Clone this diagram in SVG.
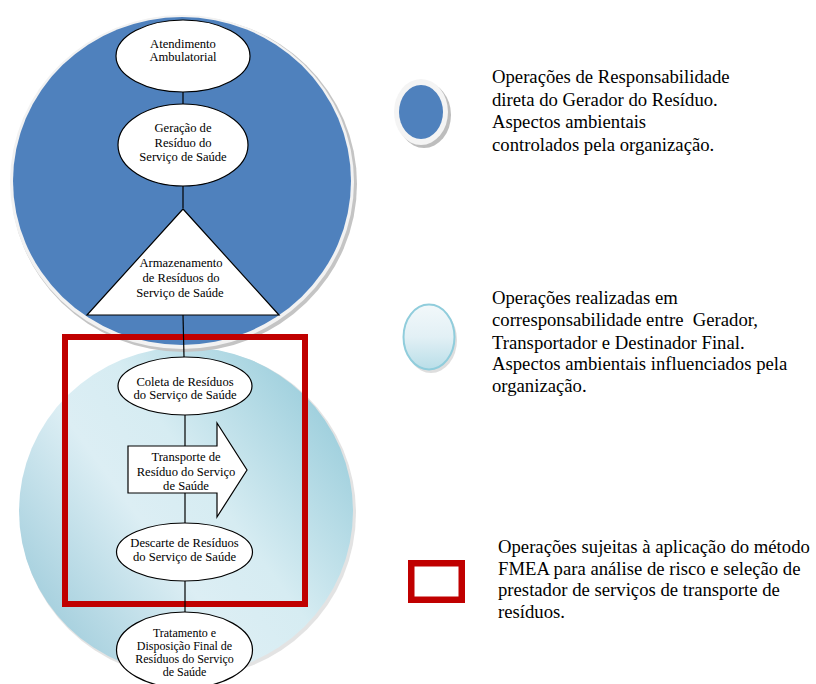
<svg xmlns="http://www.w3.org/2000/svg" width="816" height="684" viewBox="0 0 816 684">
  <defs>
    <linearGradient id="lightGrad" x1="0.05" y1="0.85" x2="0.95" y2="0.2">
      <stop offset="0" stop-color="#9FCCDB"/>
      <stop offset="0.4" stop-color="#DCEEF4"/>
      <stop offset="0.6" stop-color="#D6ECF2"/>
      <stop offset="1" stop-color="#9CCEDC"/>
    </linearGradient>
    <linearGradient id="iconGrad" x1="0" y1="0" x2="0" y2="1">
      <stop offset="0" stop-color="#F2F8FA"/>
      <stop offset="0.5" stop-color="#E2F0F5"/>
      <stop offset="1" stop-color="#B9DEE8"/>
    </linearGradient>
    <style>
      .node { fill: #FFFFFF; stroke: #000000; stroke-width: 1.2; }
      .conn { stroke: #000000; stroke-width: 1.2; fill: none; }
      .nt { font-family: "Liberation Serif", "DejaVu Serif", serif; font-size: 12.6px; fill: #000000; text-anchor: middle; }
      .nts { font-size: 12px; }
      .lt { font-family: "Liberation Serif", "DejaVu Serif", serif; font-size: 18.7px; fill: #000000; white-space: pre; }
      .red { fill: none; stroke: #C00000; }
    </style>
  </defs>

  <rect width="816" height="684" fill="#FFFFFF"/>

  <!-- background zones -->
  <g id="zone-light">
    <ellipse cx="188" cy="513" rx="168" ry="165" fill="#C8C8C8" opacity="0.5"/>
    <ellipse cx="186" cy="511" rx="167" ry="164" fill="url(#lightGrad)"/>
  </g>
  <g id="zone-blue">
    <ellipse cx="184" cy="184" rx="173" ry="168" fill="#C4C4C4"/>
    <ellipse cx="182" cy="182" rx="172" ry="167" fill="#F2F2F2"/>
    <ellipse cx="182" cy="181" rx="169" ry="164" fill="#4F81BD"/>
  </g>

  <g id="fmea-box">
    <rect class="red" x="65" y="337" width="240" height="267" stroke-width="6"/>
  </g>

  <g id="connectors">
    <line class="conn" x1="183" y1="92" x2="183" y2="104"/>
    <line class="conn" x1="183" y1="186" x2="183" y2="208"/>
    <line class="conn" x1="183" y1="315" x2="184" y2="357"/>
    <line class="conn" x1="185" y1="415" x2="185" y2="523"/>
    <line class="conn" x1="185" y1="581" x2="185" y2="612"/>
  </g>

  <g id="n-atendimento">
    <ellipse class="node" cx="183" cy="56" rx="67" ry="36"/>
    <text class="nt" x="183" y="47.5">Atendimento</text>
    <text class="nt" x="183" y="61">Ambulatorial</text>
  </g>

  <g id="n-geracao">
    <ellipse class="node" cx="183" cy="145" rx="65" ry="41"/>
    <text class="nt" x="183" y="132">Geração de</text>
    <text class="nt" x="183" y="146.5">Resíduo do</text>
    <text class="nt" x="183" y="160.5">Serviço de Saúde</text>
  </g>

  <g id="n-armazenamento">
    <polygon class="node" points="183,209 87,315 279,315"/>
    <text class="nt" x="181" y="267">Armazenamento</text>
    <text class="nt" x="181" y="282">de Resíduos do</text>
    <text class="nt" x="180" y="297">Serviço de Saúde</text>
  </g>

  <g id="n-coleta">
    <ellipse class="node" cx="185" cy="386" rx="67" ry="29"/>
    <text class="nt" x="185" y="385.5">Coleta de Resíduos</text>
    <text class="nt" x="185" y="399">do Serviço de Saúde</text>
  </g>

  <g id="n-transporte">
    <polygon class="node" points="128,446 217,446 217,423 247,470 217,517 217,493 128,493"/>
    <text class="nt" x="186" y="461">Transporte de</text>
    <text class="nt" x="186" y="475.5">Resíduo do Serviço</text>
    <text class="nt" x="186" y="489.5">de Saúde</text>
  </g>

  <g id="n-descarte">
    <ellipse class="node" cx="184.5" cy="552" rx="68" ry="29"/>
    <text class="nt" x="184.5" y="547">Descarte de Resíduos</text>
    <text class="nt" x="184.5" y="561">do Serviço de Saúde</text>
  </g>

  <g id="n-tratamento">
    <ellipse class="node" cx="184.5" cy="650" rx="68" ry="38"/>
    <text class="nt nts" x="184.5" y="636.5">Tratamento e</text>
    <text class="nt nts" x="184.5" y="649.5">Disposição Final de</text>
    <text class="nt nts" x="184.5" y="662.5">Resíduos do Serviço</text>
    <text class="nt nts" x="184.5" y="675.5">de Saúde</text>
  </g>

  <!-- legend -->
  <g id="legend-blue">
    <ellipse cx="424" cy="115" rx="27" ry="33" fill="#BDBDBD"/>
    <ellipse cx="421" cy="112" rx="27" ry="33" fill="#F4F4F4"/>
    <ellipse cx="421" cy="112" rx="22" ry="27" fill="#4F81BD"/>
    <text class="lt" x="492" y="83">Operações de Responsabilidade</text>
    <text class="lt" x="492" y="105.5">direta do Gerador do Resíduo.</text>
    <text class="lt" x="492" y="128">Aspectos ambientais</text>
    <text class="lt" x="492" y="150.5">controlados pela organização.</text>
  </g>

  <g id="legend-light">
    <ellipse cx="431" cy="340" rx="26" ry="33" fill="#C8C8C8" opacity="0.6"/>
    <ellipse cx="429" cy="337" rx="25.5" ry="32.5" fill="url(#iconGrad)" stroke="#90CDDC" stroke-width="2"/>
    <text class="lt" x="492" y="304">Operações realizadas em</text>
    <text class="lt" x="492" y="326">corresponsabilidade entre &#160;Gerador,</text>
    <text class="lt" x="492" y="348.5">Transportador e Destinador Final.</text>
    <text class="lt" x="492" y="370">Aspectos ambientais influenciados pela</text>
    <text class="lt" x="492" y="391.5">organização.</text>
  </g>

  <g id="legend-red">
    <rect class="red" x="411.25" y="563.25" width="50.5" height="36.5" stroke-width="6.5"/>
    <text class="lt" x="498" y="553">Operações sujeitas à aplicação do método</text>
    <text class="lt" x="498" y="574.5">FMEA para análise de risco e seleção de</text>
    <text class="lt" x="498" y="596">prestador de serviços de transporte de</text>
    <text class="lt" x="498" y="617.5">resíduos.</text>
  </g>
</svg>
